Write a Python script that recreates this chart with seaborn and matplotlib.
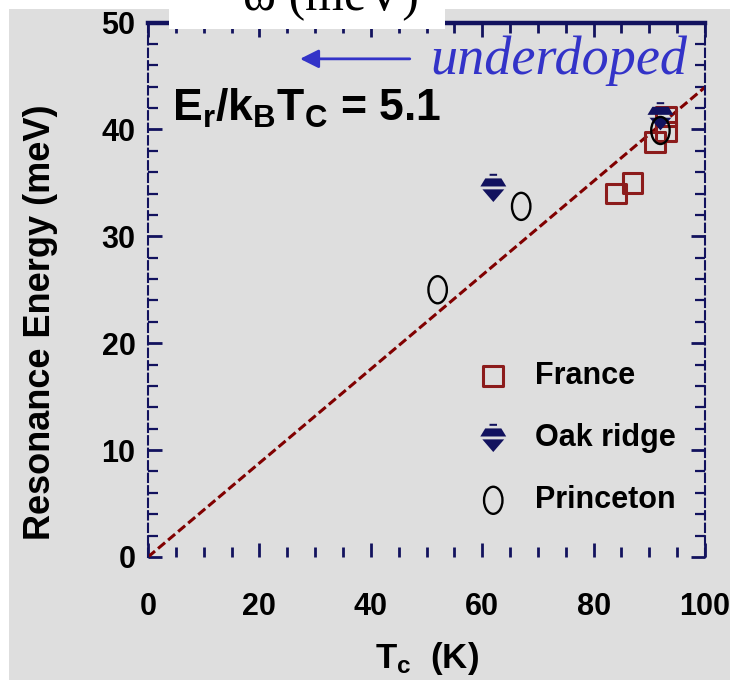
import numpy as np
import pandas as pd
import seaborn as sns
import matplotlib.pyplot as plt
from matplotlib import font_manager
from matplotlib.path import Path
from matplotlib.patches import Rectangle
from matplotlib.ticker import MultipleLocator

# --- data -------------------------------------------------------------
france_tc = [84, 87, 91, 93, 93]
france_e = [34.0, 35.0, 38.8, 39.8, 41.2]
oak_tc = [62, 92]
oak_e = [34.5, 41.2]
princeton_tc = [52, 67, 92]
princeton_e = [25.0, 32.8, 39.9]
sources = ["France", "Oak ridge", "Princeton"]
ratio = 5.1            # E_r / (k_B T_c)
k_b = 0.08617          # meV / K
fit_tc = [0, 100]
x_ticks = [0, 20, 40, 60, 80, 100]
y_ticks = [0, 10, 20, 30, 40, 50]

# --- style ------------------------------------------------------------
sns.set_theme(style="ticks")
names = {f.name for f in font_manager.fontManager.ttflist}
sans = "Liberation Sans Narrow" if "Liberation Sans Narrow" in names else "Liberation Sans"
plt.rcParams["font.family"] = [sans, "Liberation Sans", "DejaVu Sans"]
plt.rcParams["font.weight"] = "bold"
plt.rcParams["text.color"] = "black"
plt.rcParams["axes.labelcolor"] = "black"
plt.rcParams["xtick.labelcolor"] = "black"
plt.rcParams["ytick.labelcolor"] = "black"
plt.rcParams["mathtext.fontset"] = "custom"
plt.rcParams["mathtext.rm"] = f"{sans}:bold"
plt.rcParams["mathtext.bf"] = f"{sans}:bold"
plt.rcParams["mathtext.it"] = f"{sans}:bold"

GRAY = "#dedede"
NAVY = "#12125e"
BROWN = "#8c1c1c"
DARKRED = "#800000"
BLUE = "#3333c8"

# Marker shapes
def ellipse_marker():
    circ = Path.unit_circle()
    verts = circ.vertices * np.array([0.68, 1.0])
    return Path(verts, circ.codes)


def spinning_top_marker():
    polys = [
        [(-0.13, 0.50), (0.13, 0.50), (0.13, 0.43), (-0.13, 0.43)],
        [(-0.45, 0.06), (0.45, 0.06), (0.28, 0.34), (-0.28, 0.34)],
        [(-0.38, -0.04), (0.38, -0.04), (0.0, -0.48)],
    ]
    paths = []
    for p in polys:
        v = p + [p[0]]
        c = [Path.MOVETO] + [Path.LINETO] * (len(p) - 1) + [Path.CLOSEPOLY]
        paths.append(Path(v, c))
    return Path.make_compound_path(*paths)


fig = plt.figure(figsize=(7.3, 6.8), dpi=100)
fig.patch.set_facecolor("white")
fig.add_artist(Rectangle((9 / 730, 0), 1, 1 - 9 / 680, transform=fig.transFigure,
                         facecolor=GRAY, edgecolor="none", zorder=-1))

ax = fig.add_axes([148 / 730, 1 - 557 / 680, (705 - 148) / 730, (557 - 22.5) / 680])
ax.set_facecolor(GRAY)

# Fit line E = ratio * k_B * T_c
fit_e = [ratio * k_b * t for t in fit_tc]
sns.lineplot(x=fit_tc, y=fit_e, ax=ax, color=DARKRED, lw=2.2,
             linestyle=(0, (3, 1.3)), zorder=2)

sns.scatterplot(x=france_tc, y=france_e, ax=ax, marker="s", s=200,
                facecolor="none", edgecolor=BROWN, linewidth=2.2,
                label=sources[0], zorder=3)
sns.scatterplot(x=oak_tc, y=oak_e, ax=ax, marker=spinning_top_marker(), s=430,
                color=NAVY, edgecolor="none", linewidth=0,
                label=sources[1], zorder=4)
sns.scatterplot(x=princeton_tc, y=princeton_e, ax=ax, marker=ellipse_marker(), s=380,
                facecolor="none", edgecolor="black", linewidth=1.7,
                label=sources[2], zorder=5)

ax.set_xlim(0, 100)
ax.set_ylim(0, 50)
ax.set_xticks(x_ticks)
ax.set_yticks(y_ticks)
ax.xaxis.set_minor_locator(MultipleLocator(5))
ax.yaxis.set_minor_locator(MultipleLocator(2))
ax.tick_params(axis="both", which="both", direction="in", color=NAVY,
               top=True, right=True, labelsize=22)
ax.tick_params(axis="x", which="major", length=10, width=2, pad=25)
ax.tick_params(axis="x", which="minor", length=7, width=2)
ax.tick_params(axis="y", which="major", length=10, width=2, pad=9)
ax.tick_params(axis="y", which="minor", length=7, width=1.6)
for lab in ax.get_xticklabels() + ax.get_yticklabels():
    lab.set_fontweight("bold")

for side in ("left", "right"):
    ax.spines[side].set_linestyle((0, (4, 2)))
    ax.spines[side].set_color(NAVY)
    ax.spines[side].set_linewidth(1.5)
ax.spines["bottom"].set_visible(False)
ax.spines["top"].set_color(NAVY)
ax.spines["top"].set_linewidth(3.2)

ax.set_ylabel("Resonance Energy (meV)", fontsize=26, fontweight="bold")
ax.yaxis.set_label_coords(-0.162, 0.44)
ax.set_xlabel(r"T$_c$  (K)", fontsize=25, fontweight="bold", labelpad=13)

ax.legend(loc="upper left", bbox_to_anchor=(0.565, 0.395), frameon=False,
          handlelength=1.0, handletextpad=0.85, labelspacing=1.05,
          borderpad=0, prop={"weight": "bold", "size": 22})

ax.text(4.3, 40.8, r"$\mathbf{E_r/k_BT_C}$ = 5.1", fontsize=32, fontweight="bold",
        va="baseline", ha="left", color="black", zorder=6)

ax.annotate("", xy=(26.8, 46.6), xytext=(47.5, 46.6),
            arrowprops=dict(arrowstyle="-|>", color=BLUE, lw=2, mutation_scale=28))
ax.text(50.6, 46.4, "underdoped", fontsize=39, family=["Liberation Serif"],
        style="italic", fontweight="normal", color=BLUE, ha="left", va="center")

# Header strip with the energy label
fig.add_artist(Rectangle((169 / 730, 1 - 29 / 680), (445 - 169) / 730, 29 / 680,
                         transform=fig.transFigure, facecolor="white",
                         edgecolor="none", zorder=5))
fig.text(331 / 730, 1 - 10 / 680, "ω (meV)", family=["Liberation Serif"],
         fontweight="normal", fontsize=36, ha="center", va="baseline", zorder=6)

fig.savefig("out.png", dpi=100)
